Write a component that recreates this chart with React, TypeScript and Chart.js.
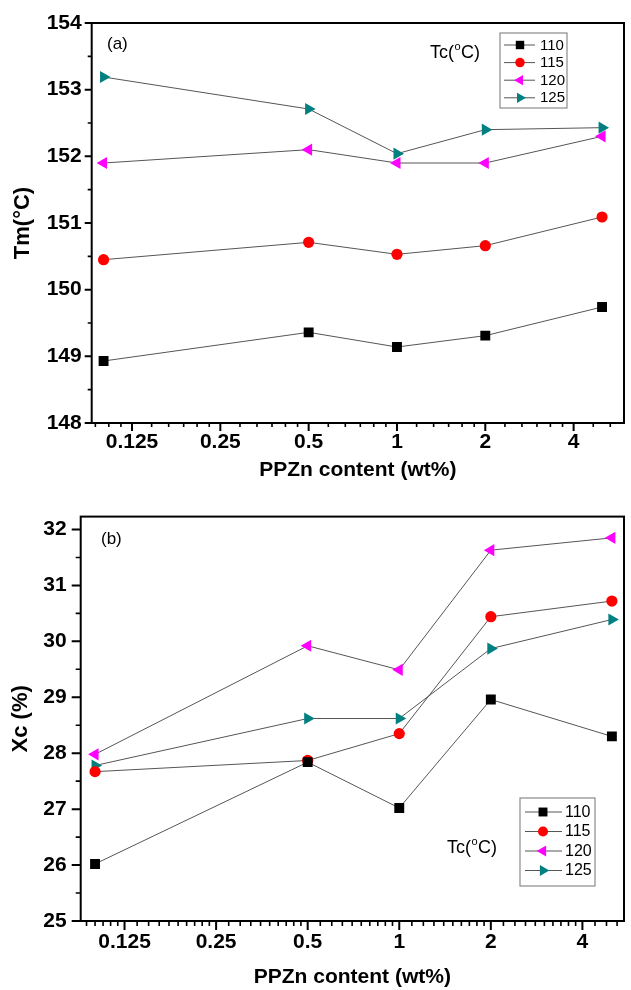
import React, { useEffect, useRef } from 'react';
import { Chart, registerables } from 'chart.js';

Chart.register(...registerables);

// ---------- data ----------
const xValues = [0.1, 0.5, 1, 2, 5];
const seriesLabels = ['110', '115', '120', '125'];

const tm110 = [148.93, 149.36, 149.14, 149.31, 149.74];
const tm115 = [150.45, 150.71, 150.53, 150.66, 151.09];
const tm120 = [151.9, 152.1, 151.9, 151.9, 152.3];
const tm125 = [153.19, 152.71, 152.04, 152.4, 152.43];

const xc110 = [26.02, 27.84, 27.02, 28.96, 28.3];
const xc115 = [27.67, 27.87, 28.35, 30.44, 30.72];
const xc120 = [27.98, 29.92, 29.49, 31.63, 31.85];
const xc125 = [27.78, 28.62, 28.62, 29.87, 30.39];

const xTickValues = [0.125, 0.25, 0.5, 1, 2, 4];
const xTickLabels = ['0.125', '0.25', '0.5', '1', '2', '4'];
const tmTickValues = [148, 149, 150, 151, 152, 153, 154];
const xcTickValues = [25, 26, 27, 28, 29, 30, 31, 32];

const xTitle = 'PPZn content (wt%)';
const tmTitle = 'Tm(°C)';
const xcTitle = 'Xc (%)';

// ---------- styles ----------
const FONT = '"Liberation Sans", Arial, Helvetica, sans-serif';
const LINE_COLOR = '#555555';

const seriesStyles = [
  { color: '#000000', pointStyle: 'rect', radius: 7, rotation: 0 },
  { color: '#ff0000', pointStyle: 'circle', radius: 5.6, rotation: 0 },
  { color: '#ff00ff', pointStyle: 'triangle', radius: 7, rotation: -90 },
  { color: '#008080', pointStyle: 'triangle', radius: 7, rotation: 90 },
];

function makeDatasets(series: number[][]) {
  return series.map((vals, si) => ({
    label: seriesLabels[si],
    data: xValues.map((x, i) => ({ x, y: vals[i] })),
    borderColor: LINE_COLOR,
    borderWidth: 1,
    backgroundColor: seriesStyles[si].color,
    pointBackgroundColor: seriesStyles[si].color,
    pointBorderColor: seriesStyles[si].color,
    pointBorderWidth: 0,
    pointStyle: seriesStyles[si].pointStyle,
    pointRadius: seriesStyles[si].radius,
    pointRotation: seriesStyles[si].rotation,
    tension: 0,
    fill: false,
  }));
}

function drawMarker(ctx: CanvasRenderingContext2D, style: any, x: number, y: number, r: number) {
  ctx.fillStyle = style.color;
  ctx.beginPath();
  if (style.pointStyle === 'rect') {
    const s = Math.SQRT1_2 * r;
    ctx.rect(x - s, y - s, 2 * s, 2 * s);
  } else if (style.pointStyle === 'circle') {
    ctx.arc(x, y, r, 0, Math.PI * 2);
  } else {
    let rad = (style.rotation * Math.PI) / 180;
    for (let k = 0; k < 3; k++) {
      const px = x + Math.sin(rad) * r;
      const py = y - Math.cos(rad) * r;
      if (k === 0) ctx.moveTo(px, py);
      else ctx.lineTo(px, py);
      rad += (2 * Math.PI) / 3;
    }
    ctx.closePath();
  }
  ctx.fill();
}

function drawTc(ctx: CanvasRenderingContext2D, x: number, y: number, size: number) {
  ctx.fillStyle = '#000';
  ctx.textBaseline = 'middle';
  ctx.textAlign = 'left';
  ctx.font = `${size}px ${FONT}`;
  let cx = x;
  ctx.fillText('Tc(', cx, y);
  cx += ctx.measureText('Tc(').width;
  ctx.font = `${Math.round(size * 0.62)}px ${FONT}`;
  ctx.fillText('o', cx + 0.5, y - size * 0.33);
  cx += ctx.measureText('o').width + 1;
  ctx.font = `${size}px ${FONT}`;
  ctx.fillText('C)', cx, y);
}

const frameTicksPlugin = {
  id: 'frameTicks',
  afterDraw(chart: any, _args: any, opts: any) {
    const { ctx, chartArea } = chart;
    const { left, right, top, bottom } = chartArea;
    const xs = chart.scales.x;
    const ys = chart.scales.y;
    ctx.save();
    ctx.strokeStyle = '#000';
    ctx.lineWidth = 2;
    ctx.strokeRect(left, top, right - left, bottom - top);

    ctx.lineWidth = 2;
    ctx.beginPath();
    for (const t of xs.ticks) {
      const px = xs.getPixelForValue(t.value);
      ctx.moveTo(px, bottom);
      ctx.lineTo(px, bottom + opts.xMajor);
    }
    ctx.stroke();
    ctx.lineWidth = 1.6;
    ctx.beginPath();
    for (const v of opts.xMinor) {
      if (v <= xs.min || v >= xs.max) continue;
      const px = xs.getPixelForValue(v);
      ctx.moveTo(px, bottom);
      ctx.lineTo(px, bottom + opts.xMinorLen);
    }
    ctx.stroke();
    ctx.lineWidth = 2;
    ctx.beginPath();
    for (const t of ys.ticks) {
      const py = ys.getPixelForValue(t.value);
      ctx.moveTo(left, py);
      ctx.lineTo(left - opts.yMajor, py);
    }
    ctx.stroke();
    ctx.lineWidth = 1.6;
    ctx.beginPath();
    const yt = ys.ticks.map((t: any) => t.value);
    for (let i = 0; i < yt.length - 1; i++) {
      const py = ys.getPixelForValue((yt[i] + yt[i + 1]) / 2);
      ctx.moveTo(left, py);
      ctx.lineTo(left - opts.yMinorLen, py);
    }
    ctx.stroke();
    ctx.restore();
  },
};

const boxLegendPlugin = {
  id: 'boxLegend',
  afterDraw(chart: any, _args: any, o: any) {
    const { ctx } = chart;
    ctx.save();
    ctx.fillStyle = '#000';
    ctx.font = `${o.panelSize}px ${FONT}`;
    ctx.textBaseline = 'middle';
    ctx.textAlign = 'left';
    ctx.fillText(o.panelText, o.panelX, o.panelY);
    drawTc(ctx, o.tcX, o.tcY, o.tcSize);
    ctx.strokeStyle = '#8a8a8a';
    ctx.lineWidth = 1.2;
    ctx.strokeRect(o.boxX, o.boxY, o.boxW, o.boxH);
    chart.data.datasets.forEach((ds: any, i: number) => {
      const y = o.rowY + i * o.rowStep;
      ctx.strokeStyle = LINE_COLOR;
      ctx.lineWidth = 1;
      ctx.beginPath();
      ctx.moveTo(o.lineX1, y);
      ctx.lineTo(o.lineX2, y);
      ctx.stroke();
      const st = seriesStyles[i];
      drawMarker(ctx, st, o.markerX, y, st.radius * o.markerScale);
      ctx.fillStyle = '#000';
      ctx.font = `${o.textSize}px ${FONT}`;
      ctx.textBaseline = 'middle';
      ctx.textAlign = 'left';
      ctx.fillText(ds.label, o.textX, y + 0.5);
    });
    ctx.restore();
  },
};

function minorValues(steps: number) {
  const out: number[] = [];
  for (let n = -5; n <= 3; n++) {
    const base = Math.pow(2, n);
    for (let k = 1; k < steps; k++) out.push(base * (1 + k / steps));
  }
  return out;
}

function buildConfig(p: any): any {
  return {
    type: 'line',
    data: { datasets: makeDatasets(p.series) },
    options: {
      responsive: false,
      animation: false,
      events: [],
      layout: { padding: { left: 0, top: p.padTop, right: p.padRight, bottom: 0 } },
      plugins: {
        legend: { display: false },
        tooltip: { enabled: false },
        frameTicks: p.frame,
        boxLegend: p.legend,
      },
      scales: {
        x: {
          type: 'logarithmic',
          min: p.xMin,
          max: p.xMax,
          afterBuildTicks: (s: any) => {
            s.ticks = xTickValues.map((v) => ({ value: v }));
          },
          afterFit: (s: any) => {
            s.height = p.xHeight;
          },
          grid: { display: false, drawTicks: false },
          border: { display: false },
          ticks: {
            autoSkip: false,
            maxRotation: 0,
            minRotation: 0,
            color: '#000',
            padding: p.xTickPad,
            font: { family: FONT, size: p.tickSize, weight: 'bold' },
            callback: (v: any) => {
              const i = xTickValues.indexOf(Number(v));
              return i >= 0 ? xTickLabels[i] : '';
            },
          },
          title: {
            display: true,
            text: xTitle,
            color: '#000',
            font: { family: FONT, size: p.xTitleSize, weight: 'bold' },
            padding: { top: 0, bottom: p.xTitlePad },
          },
        },
        y: {
          type: 'linear',
          min: p.yMin,
          max: p.yMax,
          afterBuildTicks: (s: any) => {
            s.ticks = p.yTicks.map((v: number) => ({ value: v }));
          },
          afterFit: (s: any) => {
            s.width = p.yWidth;
          },
          grid: { display: false, drawTicks: false },
          border: { display: false },
          ticks: {
            color: '#000',
            padding: p.yTickPad,
            font: { family: FONT, size: p.tickSize, weight: 'bold' },
            callback: (v: any) => String(v),
          },
          title: {
            display: true,
            text: p.yTitle,
            color: '#000',
            font: { family: FONT, size: p.yTitleSize, weight: 'bold' },
            padding: { top: p.yTitlePad, bottom: 0 },
          },
        },
      },
    },
    plugins: [frameTicksPlugin, boxLegendPlugin],
  };
}

const topParams = {
  series: [tm110, tm115, tm120, tm125],
  xMin: 0.0911,
  xMax: 5.94,
  yMin: 148,
  yMax: 154,
  yTicks: tmTickValues,
  yTitle: tmTitle,
  padTop: 23,
  padRight: 1.7,
  xHeight: 67,
  yWidth: 91.7,
  tickSize: 21,
  xTickPad: 7,
  yTickPad: 10,
  xTitleSize: 21,
  xTitlePad: 7,
  yTitleSize: 22,
  yTitlePad: 10,
  frame: { xMajor: 8, xMinorLen: 4, yMajor: 7, yMinorLen: 4, xMinor: minorValues(6) },
  legend: {
    panelText: '(a)', panelX: 107, panelY: 44, panelSize: 17,
    tcX: 430, tcY: 53, tcSize: 18,
    boxX: 500, boxY: 33, boxW: 67, boxH: 75,
    rowY: 45, rowStep: 17.6,
    lineX1: 504, lineX2: 535, markerX: 520, textX: 540, textSize: 15,
    markerScale: 0.85,
  },
};

const bottomParams = {
  series: [xc110, xc115, xc120, xc125],
  xMin: 0.0897,
  xMax: 5.48,
  yMin: 25,
  yMax: 32.23,
  yTicks: xcTickValues,
  yTitle: xcTitle,
  padTop: 21,
  padRight: 1.7,
  xHeight: 69,
  yWidth: 80.7,
  tickSize: 21,
  xTickPad: 9,
  yTickPad: 14,
  xTitleSize: 21,
  xTitlePad: 0.5,
  yTitleSize: 22,
  yTitlePad: 8,
  frame: { xMajor: 9, xMinorLen: 5, yMajor: 9, yMinorLen: 5, xMinor: minorValues(10) },
  legend: {
    panelText: '(b)', panelX: 101, panelY: 49, panelSize: 17,
    tcX: 447, tcY: 358, tcSize: 18,
    boxX: 520, boxY: 308, boxW: 75, boxH: 88,
    rowY: 322, rowStep: 19.5,
    lineX1: 525, lineX2: 562, markerX: 543, textX: 565, textSize: 16,
    markerScale: 0.9,
  },
};

function Panel({ params, top, height }: { params: any; top: number; height: number }) {
  const ref = useRef<HTMLCanvasElement | null>(null);
  useEffect(() => {
    if (!ref.current) return;
    const chart = new Chart(ref.current, buildConfig(params));
    return () => chart.destroy();
  }, [params]);
  return (
    <canvas
      ref={ref}
      width={631}
      height={height}
      style={{ position: 'absolute', left: 0, top, width: 631, height, display: 'block' }}
    />
  );
}

export default function App() {
  return (
    <div style={{ position: 'absolute', left: 0, top: 0, width: 631, height: 990, background: '#fff' }}>
      <Panel params={topParams} top={0} height={490} />
      <Panel params={bottomParams} top={490} height={500} />
    </div>
  );
}
